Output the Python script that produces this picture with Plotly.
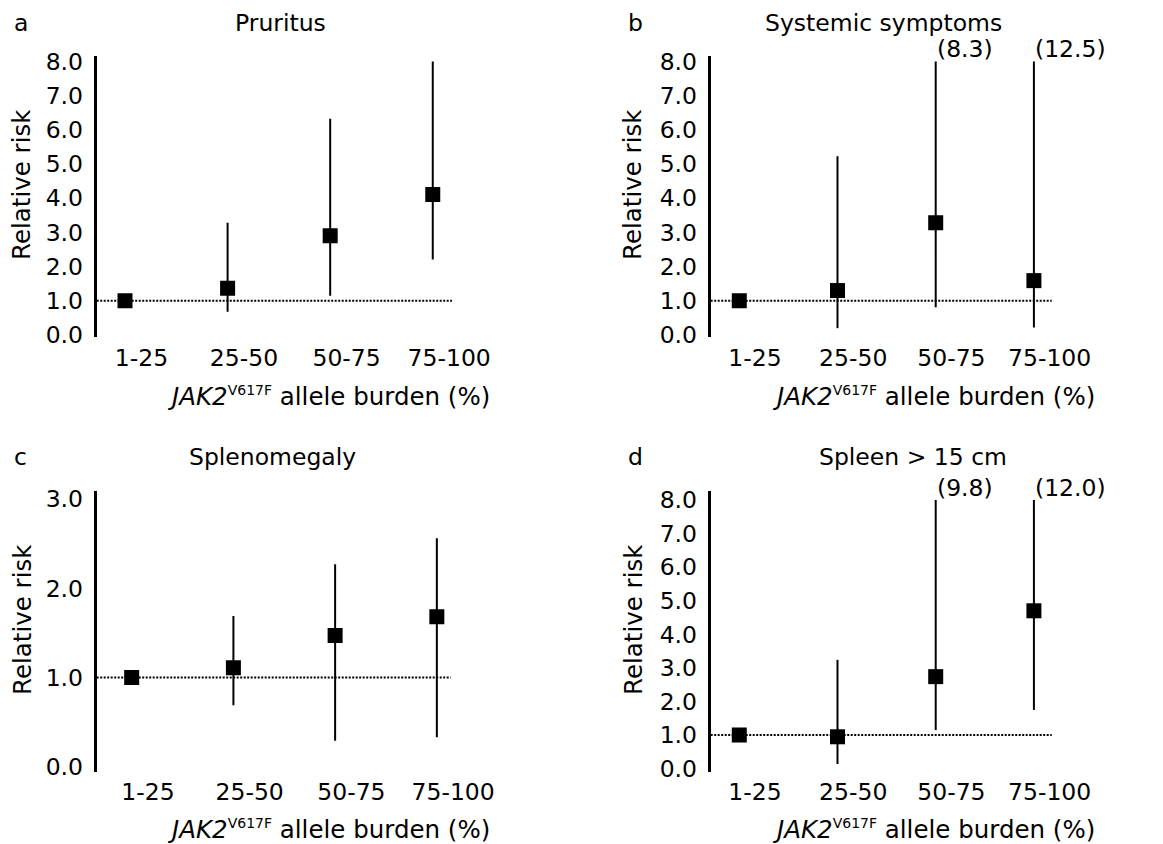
import plotly.graph_objects as go

W, H = 1163, 844
FONT = "DejaVu Sans"
FS = 23.5

categories = ["1-25", "25-50", "50-75", "75-100"]

# Panel a: Pruritus
pru_rr = [1.0, 1.37, 2.90, 4.11]
pru_lo = [1.0, 0.68, 1.15, 2.21]
pru_hi = [1.0, 3.28, 6.32, 8.0]

# Panel b: Systemic symptoms
sys_rr = [1.0, 1.30, 3.28, 1.59]
sys_lo = [1.0, 0.20, 0.81, 0.22]
sys_hi = [1.0, 5.23, 8.3, 12.5]

# Panel c: Splenomegaly
spl_rr = [1.0, 1.11, 1.47, 1.68]
spl_lo = [1.0, 0.69, 0.29, 0.33]
spl_hi = [1.0, 1.69, 2.27, 2.56]

# Panel d: Spleen > 15 cm
s15_rr = [1.0, 0.95, 2.74, 4.70]
s15_lo = [1.0, 0.14, 1.15, 1.75]
s15_hi = [1.0, 3.24, 9.8, 12.0]

titles = ["Pruritus", "Systemic symptoms", "Splenomegaly", "Spleen > 15 cm"]
letters = ["a", "b", "c", "d"]
y_title = "Relative risk"
x_title = "<i>JAK2</i><sup><span style='font-size:14px'>V617F</span></sup> allele burden (%)"

panels = [
    dict(rr=pru_rr, lo=pru_lo, hi=pru_hi, cap=None, yticks=[0, 1, 2, 3, 4, 5, 6, 7, 8],
         xpx=(96.7, 470), xr=(0.724, 4.363), ypx=(56, 337), yr=(-0.058, 8.158),
         title_xy=(280, 23), letter_xy=(20.7, 23), ytitle_xy=(22, 185), xtitle_xy=(328, 396), ref_end=452),
    dict(rr=sys_rr, lo=sys_lo, hi=sys_hi, cap=8.0, yticks=[0, 1, 2, 3, 4, 5, 6, 7, 8],
         xpx=(710.7, 1100), xr=(0.709, 4.673), ypx=(56, 337), yr=(-0.058, 8.158),
         title_xy=(883, 23), letter_xy=(635, 23), ytitle_xy=(633, 185), xtitle_xy=(933.5, 396), ref_end=1051.7),
    dict(rr=spl_rr, lo=spl_lo, hi=spl_hi, cap=None, yticks=[0, 1, 2, 3],
         xpx=(96.7, 470), xr=(0.656, 4.326), ypx=(491, 771.7), yr=(-0.056, 3.091),
         title_xy=(272.7, 457), letter_xy=(20.7, 457), ytitle_xy=(22, 620), xtitle_xy=(328, 829), ref_end=450.7),
    dict(rr=s15_rr, lo=s15_lo, hi=s15_hi, cap=8.0, yticks=[0, 1, 2, 3, 4, 5, 6, 7, 8],
         xpx=(710.7, 1100), xr=(0.709, 4.673), ypx=(491, 771.7), yr=(-0.089, 8.265),
         title_xy=(912.7, 457), letter_xy=(635, 457), ytitle_xy=(633, 620), xtitle_xy=(933.5, 829), ref_end=1051.7),
]

REF = 1.0
LABEL_OFFSET = 0.16

fig = go.Figure()
annotations = []
shapes = []

def px_x(p):
    return p / W

def px_y(p):
    return 1 - p / H

font = dict(family=FONT, size=FS, color="black")
font_big = dict(family=FONT, size=24.5, color="black")

for i, p in enumerate(panels):
    n = i + 1
    xa = "x" if n == 1 else f"x{n}"
    ya = "y" if n == 1 else f"y{n}"
    xpos = list(range(1, len(categories) + 1))
    cap = p["cap"]
    hi_drawn = [min(h, cap) if cap else h for h in p["hi"]]
    fig.add_trace(go.Scatter(
        x=xpos, y=p["rr"], mode="markers", xaxis=xa, yaxis=ya, showlegend=False,
        marker=dict(symbol="square", size=15, color="black"),
        error_y=dict(type="data", symmetric=False,
                     array=[h - r for h, r in zip(hi_drawn, p["rr"])],
                     arrayminus=[r - l for r, l in zip(p["rr"], p["lo"])],
                     width=0, thickness=2, color="black"),
    ))
    xkey = "xaxis" if n == 1 else f"xaxis{n}"
    ykey = "yaxis" if n == 1 else f"yaxis{n}"
    fig.update_layout(**{
        xkey: dict(domain=[px_x(p["xpx"][0]), px_x(p["xpx"][1])], range=list(p["xr"]),
                   anchor=ya, showline=False, showgrid=False, zeroline=False, ticks="",
                   tickvals=[v + LABEL_OFFSET for v in xpos], ticktext=categories,
                   tickfont=font, ticklabelstandoff=4, automargin=False),
        ykey: dict(domain=[px_y(p["ypx"][1]), px_y(p["ypx"][0])], range=list(p["yr"]),
                   anchor=xa, showline=True, linewidth=3, linecolor="black", showgrid=False,
                   zeroline=False, ticks="", tickvals=p["yticks"], tickformat=".1f",
                   tickfont=font, ticklabelstandoff=6, automargin=False),
    })
    # reference line at RR = 1
    shapes.append(dict(type="line", xref=f"{xa} domain", yref=ya, x0=0,
                       x1=(p["ref_end"] - p["xpx"][0]) / (p["xpx"][1] - p["xpx"][0]),
                       y0=REF, y1=REF, line=dict(color="black", width=2, dash="2px,1.5px"),
                       layer="below"))
    # truncated upper CI labels
    if cap:
        for xv, h in zip(xpos, p["hi"]):
            if h > cap:
                annotations.append(dict(x=xv, y=cap, xref=xa, yref=ya, text=f"({h:.1f})",
                                        showarrow=False, xanchor="left", yanchor="bottom",
                                        xshift=-1, yshift=-4, font=font))
    annotations.append(dict(x=px_x(p["title_xy"][0]), y=px_y(p["title_xy"][1]), xref="paper", yref="paper",
                            text=titles[i], showarrow=False, xanchor="center", yanchor="middle", font=font))
    annotations.append(dict(x=px_x(p["letter_xy"][0]), y=px_y(p["letter_xy"][1]), xref="paper", yref="paper",
                            text=letters[i], showarrow=False, xanchor="center", yanchor="middle", font=font))
    annotations.append(dict(x=px_x(p["ytitle_xy"][0]), y=px_y(p["ytitle_xy"][1]), xref="paper", yref="paper",
                            text=y_title, textangle=-90, showarrow=False,
                            xanchor="center", yanchor="middle", font=font_big))
    annotations.append(dict(x=px_x(p["xtitle_xy"][0]), y=px_y(p["xtitle_xy"][1]), xref="paper", yref="paper",
                            text=x_title, showarrow=False,
                            xanchor="center", yanchor="middle", font=font_big))

fig.update_layout(width=W, height=H, autosize=False, margin=dict(l=0, r=0, t=0, b=0, pad=0),
                  paper_bgcolor="white", plot_bgcolor="white",
                  annotations=annotations, shapes=shapes)

post = ("document.body.style.margin='0';document.body.style.padding='0';"
        "document.body.style.overflow='hidden';document.documentElement.style.overflow='hidden';")
fig.write_html("out.html", config={"displayModeBar": False}, post_script=post)
